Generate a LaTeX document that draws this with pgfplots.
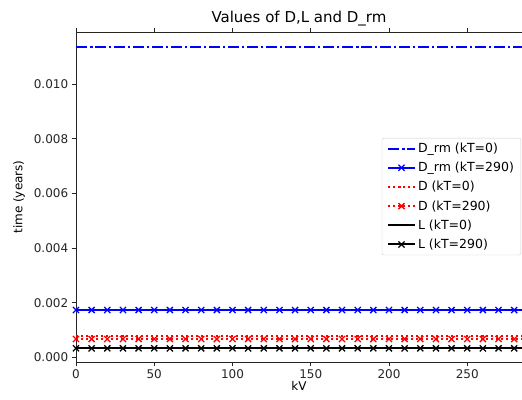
\documentclass[border=0pt]{standalone}
\usepackage{fontspec}
\setmainfont{DejaVu Sans}
\usepackage{pgfplots}
\usepackage{pgfplotstable}
\pgfplotsset{compat=1.18}

% constant values over kV (0..290, step 10)
\pgfplotstableread{
kV   Drm0     Drm290   D0       D290     L0       L290
0    0.01135  0.00174  0.00079  0.00068  0.00034  0.00034
10   0.01135  0.00174  0.00079  0.00068  0.00034  0.00034
20   0.01135  0.00174  0.00079  0.00068  0.00034  0.00034
30   0.01135  0.00174  0.00079  0.00068  0.00034  0.00034
40   0.01135  0.00174  0.00079  0.00068  0.00034  0.00034
50   0.01135  0.00174  0.00079  0.00068  0.00034  0.00034
60   0.01135  0.00174  0.00079  0.00068  0.00034  0.00034
70   0.01135  0.00174  0.00079  0.00068  0.00034  0.00034
80   0.01135  0.00174  0.00079  0.00068  0.00034  0.00034
90   0.01135  0.00174  0.00079  0.00068  0.00034  0.00034
100  0.01135  0.00174  0.00079  0.00068  0.00034  0.00034
110  0.01135  0.00174  0.00079  0.00068  0.00034  0.00034
120  0.01135  0.00174  0.00079  0.00068  0.00034  0.00034
130  0.01135  0.00174  0.00079  0.00068  0.00034  0.00034
140  0.01135  0.00174  0.00079  0.00068  0.00034  0.00034
150  0.01135  0.00174  0.00079  0.00068  0.00034  0.00034
160  0.01135  0.00174  0.00079  0.00068  0.00034  0.00034
170  0.01135  0.00174  0.00079  0.00068  0.00034  0.00034
180  0.01135  0.00174  0.00079  0.00068  0.00034  0.00034
190  0.01135  0.00174  0.00079  0.00068  0.00034  0.00034
200  0.01135  0.00174  0.00079  0.00068  0.00034  0.00034
210  0.01135  0.00174  0.00079  0.00068  0.00034  0.00034
220  0.01135  0.00174  0.00079  0.00068  0.00034  0.00034
230  0.01135  0.00174  0.00079  0.00068  0.00034  0.00034
240  0.01135  0.00174  0.00079  0.00068  0.00034  0.00034
250  0.01135  0.00174  0.00079  0.00068  0.00034  0.00034
260  0.01135  0.00174  0.00079  0.00068  0.00034  0.00034
270  0.01135  0.00174  0.00079  0.00068  0.00034  0.00034
280  0.01135  0.00174  0.00079  0.00068  0.00034  0.00034
290  0.01135  0.00174  0.00079  0.00068  0.00034  0.00034
}\datatable

\begin{document}
\begin{tikzpicture}
\begin{axis}[
    scale only axis,
    width=446bp, height=330bp,
    xmin=0, xmax=285,
    ymin=-0.00016, ymax=0.0119,
    axis x line*=box, axis y line*=left,
    axis line style={line width=0.9bp, black!85},
    tick align=outside,
    major tick length=4.3bp,
    tick style={black!85, line width=0.9bp},
    xtick={0,50,100,150,200,250},
    ytick={0,0.002,0.004,0.006,0.008,0.010},
    scaled y ticks=false,
    yticklabel style={/pgf/number format/.cd, fixed, fixed zerofill, precision=3},
    /pgf/number format/assume math mode=true,
    tick label style={font=\fontsize{12bp}{14bp}\selectfont, black!85},
    title={Values of D,L and D\_rm},
    title style={font=\fontsize{15bp}{17bp}\selectfont, yshift=-4bp},
    xlabel={kV},
    ylabel={time (years)},
    label style={font=\fontsize{12bp}{14bp}\selectfont},
    xlabel style={yshift=4.5bp},
    ylabel style={yshift=2bp},
    legend style={
        at={(rel axis cs:0.998,0.679)}, anchor=north east,
        font=\fontsize{12.5bp}{15bp}\selectfont,
        draw=black!20, rounded corners=2bp,
        row sep=4.2bp, inner xsep=5bp, inner ysep=3bp
    },
    legend cell align=left,
    legend image code/.code={
        \draw[mark repeat=2, mark phase=2, #1] plot coordinates {(0bp,0bp) (13.5bp,0bp) (27bp,0bp)};
    },
    every axis plot/.append style={line width=2bp},
]
\addplot[blue, dash pattern=on 11bp off 3bp on 2bp off 3bp, no marks] table[x=kV, y=Drm0] {\datatable};
\addlegendentry{D\_rm (kT=0)}
\addplot[blue, mark=x, mark size=4.3bp, mark options={solid, line width=1.3bp}] table[x=kV, y=Drm290] {\datatable};
\addlegendentry{D\_rm (kT=290)}
\addplot[red, dash pattern=on 2bp off 3bp, no marks] table[x=kV, y=D0] {\datatable};
\addlegendentry{D (kT=0)}
\addplot[red, dash pattern=on 2bp off 3bp, mark=x, mark size=4.3bp, mark options={solid, line width=1.3bp}] table[x=kV, y=D290] {\datatable};
\addlegendentry{D (kT=290)}
\addplot[black, no marks] table[x=kV, y=L0] {\datatable};
\addlegendentry{L (kT=0)}
\addplot[black, mark=x, mark size=4.3bp, mark options={solid, line width=1.3bp}] table[x=kV, y=L290] {\datatable};
\addlegendentry{L (kT=290)}
\end{axis}
\pgfresetboundingbox
\useasboundingbox (-76bp,-38bp) rectangle (446bp,362bp);
\end{tikzpicture}
\end{document}
